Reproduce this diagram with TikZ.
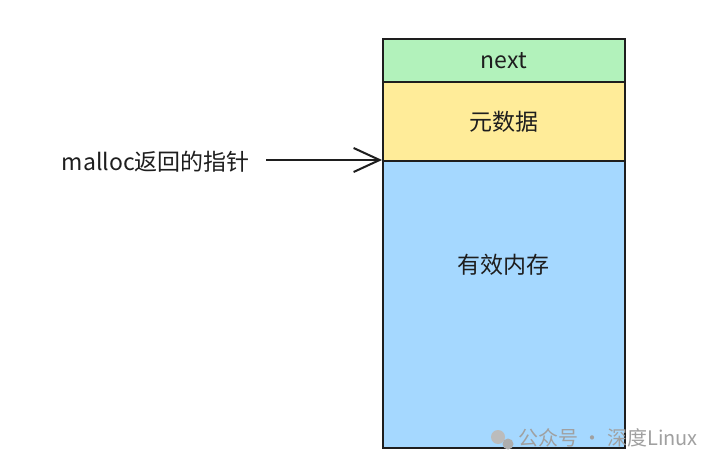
\documentclass[tikz,border=0pt]{standalone}
\usepackage{fontspec}
\setmainfont{Noto Sans CJK SC}
\newfontfamily\cjk{Noto Sans CJK SC}
\usetikzlibrary{arrows.meta}
\definecolor{bgreen}{HTML}{B2F2BB}
\definecolor{byellow}{HTML}{FFEC99}
\definecolor{bblue}{HTML}{A5D8FF}
\definecolor{edge}{HTML}{1E1E1E}
\definecolor{wm}{HTML}{A0A0A0}
\tikzset{
  block/.style={draw=edge, line width=2pt, minimum width=242pt, inner sep=0pt, anchor=north west, font=\cjk\fontsize{23pt}{23pt}\selectfont, text=edge},
  lbl/.style={font=\cjk\fontsize{23pt}{23pt}\selectfont, text=edge, inner sep=0pt},
  ptr/.style={draw=edge, line width=2pt, -{Straight Barb[length=26pt,width=24pt,line width=2pt]}},
  wmtext/.style={font=\cjk\fontsize{20pt}{20pt}\selectfont, text=wm, inner sep=0pt}
}
\begin{document}
\begin{tikzpicture}[x=1pt,y=-1pt]
\useasboundingbox (0,0) rectangle (720,470);
\fill[white] (0,0) rectangle (720,470);
\node[block, fill=bgreen, minimum height=43pt] (next) at (382,38) {next};
\node[block, fill=byellow, minimum height=79pt] (meta) at (382,81) {元数据};
\node[block, fill=bblue, minimum height=287pt] (mem) at (382,160) {};
\node[lbl] (memtxt) at (503,265) {有效内存};
\node[lbl, anchor=east] (ptrlbl) at (250,162) {malloc返回的指针};
\coordinate (ptrstart) at (266,160);
\draw[ptr] (ptrstart) -- (mem.north west);
% watermark
\fill[wm!70] (498,437) circle (7pt);
\fill[wm!85] (508,444) circle (5.5pt);
\node[wmtext, anchor=west] (wmlbl) at (518,438) {公众号 · 深度Linux};
\end{tikzpicture}
\end{document}
